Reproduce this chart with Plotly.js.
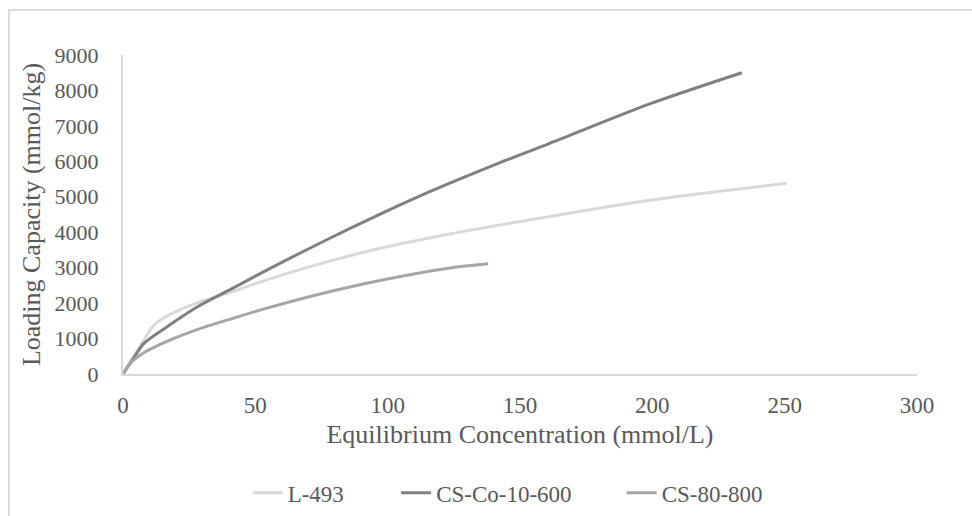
<!DOCTYPE html>
<html>
<head>
<meta charset="utf-8">
<script src="https://cdn.plot.ly/plotly-3.0.1.min.js"></script>
<style>
html,body{margin:0;padding:0;background:#fff;}
#wrap{position:relative;width:972px;height:516px;overflow:hidden;}
#chart{width:972px;height:516px;}
#frame{position:absolute;left:8px;top:9px;width:1100px;height:700px;border:2px solid #d9d9d9;pointer-events:none;box-sizing:border-box;}
</style>
</head>
<body>
<div id="wrap"><div id="chart"></div><div id="frame"></div></div>
<script>
// L-493
const l493X = [0, 3, 7, 11, 14, 20, 28, 41, 54, 73, 98, 123.5, 142, 161, 199, 250.8];
const l493Y = [0, 380, 850, 1320, 1520, 1760, 2005, 2316, 2650, 3080, 3560, 3950, 4200, 4440, 4900, 5380];
// CS-Co-10-600
const cscoX = [0, 4, 8, 16, 28, 41, 50, 60, 73, 85, 100, 117, 142, 161, 199, 233.8];
const cscoY = [0, 450, 870, 1300, 1890, 2400, 2760, 3150, 3640, 4080, 4610, 5180, 5950, 6500, 7620, 8500];
// CS-80-800
const cs80X = [0, 3, 8.3, 16, 28, 41, 54, 73, 98, 123.5, 138];
const cs80Y = [0, 320, 620, 900, 1250, 1560, 1850, 2230, 2650, 2990, 3110];

const names = ['L-493', 'CS-Co-10-600', 'CS-80-800'];
const colors = ['#d9d9d9', '#808080', '#a6a6a6'];

const ff = '"Liberation Serif", "Times New Roman", serif';
const legFont = {family: ff, color: '#595959', size: 23};

const traces = [
  {x: l493X, y: l493Y, name: names[0], legend: 'legend', mode: 'lines', line: {color: colors[0], width: 3, shape: 'spline', smoothing: 0.8}},
  {x: cscoX, y: cscoY, name: names[1], legend: 'legend2', mode: 'lines', line: {color: colors[1], width: 3, shape: 'spline', smoothing: 0.8}},
  {x: cs80X, y: cs80Y, name: names[2], legend: 'legend3', mode: 'lines', line: {color: colors[2], width: 3, shape: 'spline', smoothing: 0.8}}
];

function leg(x) {
  return {orientation: 'h', x: x, xanchor: 'left', yref: 'container', y: 0.045, yanchor: 'middle', font: legFont, bgcolor: 'rgba(0,0,0,0)', borderwidth: 0};
}

const layout = {
  width: 972, height: 516,
  margin: {l: 123, r: 55, t: 55, b: 142, autoexpand: false},
  paper_bgcolor: '#fff', plot_bgcolor: '#fff',
  font: {family: ff, color: '#595959', size: 20},
  showlegend: true,
  legend: leg(0.157),
  legend2: leg(0.344),
  legend3: leg(0.628),
  xaxis: {
    range: [0, 300], dtick: 50, tick0: 0, automargin: false,
    showgrid: false, zeroline: false,
    showline: true, linecolor: '#d9d9d9', linewidth: 2,
    ticks: '', ticklabelstandoff: 9,
    tickfont: {family: ff, color: '#595959', size: 23},
    title: {text: 'Equilibrium Concentration (mmol/L)', font: {family: ff, color: '#595959', size: 26}, standoff: 8}
  },
  yaxis: {
    range: [0, 9000], dtick: 1000, tick0: 0, automargin: false,
    showgrid: false, zeroline: false,
    showline: true, linecolor: '#d9d9d9', linewidth: 2,
    ticks: '', ticklabelstandoff: 18,
    tickfont: {family: ff, color: '#595959', size: 22},
    title: {text: 'Loading Capacity (mmol/kg)', font: {family: ff, color: '#595959', size: 26}, standoff: 6}
  }
};

Plotly.newPlot('chart', traces, layout, {displayModeBar: false, staticPlot: true});
</script>
</body>
</html>
